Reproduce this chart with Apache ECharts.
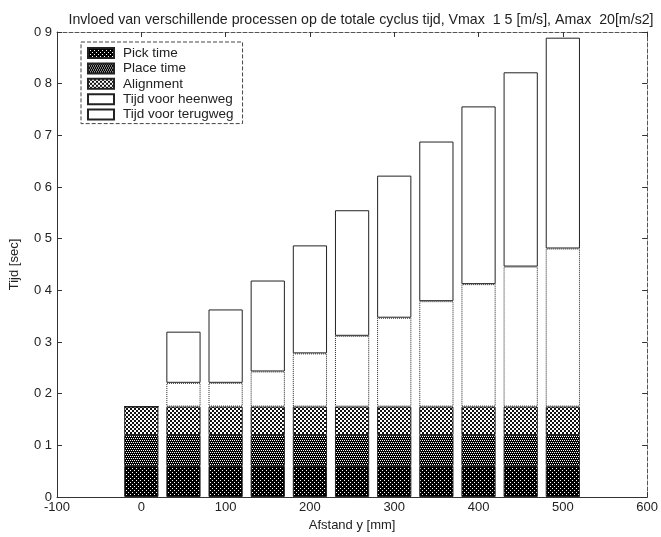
<!DOCTYPE html>
<html>
<head>
<meta charset="utf-8">
<script src="https://cdn.jsdelivr.net/npm/echarts@6/dist/echarts.min.js"></script>
<style>
  html, body { margin: 0; padding: 0; background: #fff; }
  #chart { width: 661px; height: 537px; }
</style>
</head>
<body>
<div id="chart"></div>
<script>
// Distance of each move (mm)
const afstand = [0, 50, 100, 150, 200, 250, 300, 350, 400, 450, 500];

// Time per process (s), stacked bottom to top
const pickTime      = [0.060, 0.060, 0.060, 0.060, 0.060, 0.060, 0.060, 0.060, 0.060, 0.060, 0.060];
const placeTime     = [0.060, 0.060, 0.060, 0.060, 0.060, 0.060, 0.060, 0.060, 0.060, 0.060, 0.060];
const alignment     = [0.055, 0.055, 0.055, 0.055, 0.055, 0.055, 0.055, 0.055, 0.055, 0.055, 0.055];
const heenweg       = [0.000, 0.046, 0.046, 0.068, 0.103, 0.137, 0.172, 0.204, 0.237, 0.271, 0.306];
const terugweg      = [0.000, 0.099, 0.142, 0.176, 0.209, 0.243, 0.275, 0.309, 0.344, 0.376, 0.408];

const seriesNames = ['Pick time', 'Place time', 'Alignment', 'Tijd voor heenweg', 'Tijd voor terugweg'];
const xTicks = [-100, 0, 100, 200, 300, 400, 500, 600];
const yTicks = [0, 0.1, 0.2, 0.3, 0.4, 0.5, 0.6, 0.7, 0.8, 0.9];

// Bar slots every 50 mm across the full axis range; slots without a bar stay empty
const xMin = -100, xMax = 600, slotStep = 50;
const slots = [];
for (let x = xMin; x <= xMax; x += slotStep) slots.push(x);

function slotData(vals) {
  return slots.map(x => {
    const i = afstand.indexOf(x);
    return i < 0 ? '-' : vals[i];
  });
}

// Small repeating canvas tiles for the hatched fills
function makePattern(size, whites, base) {
  const c = document.createElement('canvas');
  c.width = size; c.height = size;
  const g = c.getContext('2d');
  g.fillStyle = base;
  g.fillRect(0, 0, size, size);
  g.fillStyle = '#ffffff';
  whites.forEach(p => g.fillRect(p[0], p[1], 1, 1));
  return { image: c, repeat: 'repeat' };
}
const pickFill  = makePattern(4, [[0, 0], [2, 2]], '#000');
const placeFill = makePattern(4, [[0, 0], [2, 0], [1, 2], [3, 2]], '#000');
const alignFill = makePattern(4, [[0, 0], [1, 0], [1, 1], [2, 2], [3, 2], [3, 3], [0, 1], [2, 3]], '#111');

const W = 661;
const grid = { left: 54, right: 8, top: 32, bottom: 35 };
const barUnits = 40; // bar width in mm
const barPx = (W - grid.left - grid.right) * barUnits / (xMax - xMin);

const fonts = '"Liberation Sans", Arial, sans-serif';

function mkBar(name, vals, fill, borderType) {
  return {
    name: name,
    type: 'bar',
    stack: 'cyclus',
    xAxisIndex: 2,
    barWidth: barPx,
    data: slotData(vals),
    itemStyle: {
      color: fill,
      borderColor: '#222',
      borderWidth: 1,
      borderType: borderType || 'solid'
    },
    emphasis: { disabled: true },
    animation: false
  };
}

const chart = echarts.init(document.getElementById('chart'), null, { renderer: 'canvas' });
chart.setOption({
  backgroundColor: '#fff',
  animation: false,
  textStyle: { fontFamily: fonts },
  title: {
    text: 'Invloed van verschillende processen op de totale cyclus tijd, Vmax  1 5 [m/s], Amax  20[m/s2]',
    left: 356, top: 8, textAlign: 'center',
    textStyle: { fontSize: 14.2, fontWeight: 'normal', color: '#222', fontFamily: fonts }
  },
  legend: {
    data: seriesNames,
    orient: 'vertical',
    left: 81, top: 42,
    padding: [4, 9, 2, 6],
    icon: 'rect',
    itemWidth: 26, itemHeight: 10, itemGap: 1.4,
    backgroundColor: '#fff',
    borderColor: '#444', borderWidth: 1, borderType: 'dashed',
    textStyle: { fontSize: 13.5, lineHeight: 14, color: '#222', fontFamily: fonts, padding: [0, 0, 0, 4] },
    selectedMode: false
  },
  grid: Object.assign({ containLabel: false }, grid),
  xAxis: [{
    type: 'value', min: xMin, max: xMax, interval: 100,
    name: 'Afstand y [mm]', nameLocation: 'middle', nameGap: 22,
    nameTextStyle: { fontSize: 13, color: '#222' },
    axisLine: { show: true, onZero: false, lineStyle: { color: '#333' } },
    axisTick: { inside: true, length: 5, lineStyle: { color: '#333' } },
    axisLabel: { fontSize: 13, color: '#222', margin: 4, formatter: v => xTicks.includes(v) ? String(v) : '' },
    splitLine: { show: false }
  }, {
    type: 'value', min: xMin, max: xMax, interval: 100, position: 'top',
    axisLine: { show: true, onZero: false, lineStyle: { color: '#555', type: 'dashed' } },
    axisTick: { inside: true, length: 5, lineStyle: { color: '#333' } },
    axisLabel: { show: false }, splitLine: { show: false }
  }, {
    type: 'category', data: slots.map(String), boundaryGap: false, position: 'bottom',
    show: false
  }],
  yAxis: [{
    type: 'value', min: 0, max: 0.9, interval: 0.1,
    name: 'Tijd [sec]', nameLocation: 'middle', nameGap: 36, nameRotate: 90,
    nameTextStyle: { fontSize: 13, color: '#222' },
    axisLine: { show: true, onZero: false, lineStyle: { color: '#333' } },
    axisTick: { inside: true, length: 5, lineStyle: { color: '#333' } },
    axisLabel: {
      fontSize: 13, color: '#222', margin: 5,
      formatter: v => {
        const t = yTicks.find(y => Math.abs(y - v) < 1e-9);
        if (t === undefined) return '';
        return t === 0 ? '0' : t.toFixed(1).replace('.', ' ');
      }
    },
    splitLine: { show: false }
  }, {
    type: 'value', min: 0, max: 0.9, interval: 0.1, position: 'right',
    axisLine: { show: true, onZero: false, lineStyle: { color: '#555', type: 'dashed' } },
    axisTick: { inside: true, length: 5, lineStyle: { color: '#333' } },
    axisLabel: { show: false }, splitLine: { show: false }
  }],
  series: [
    mkBar(seriesNames[0], pickTime, pickFill),
    mkBar(seriesNames[1], placeTime, placeFill),
    mkBar(seriesNames[2], alignment, alignFill),
    mkBar(seriesNames[3], heenweg, '#ffffff', 'dotted'),
    mkBar(seriesNames[4], terugweg, '#ffffff')
  ]
});
</script>
</body>
</html>
